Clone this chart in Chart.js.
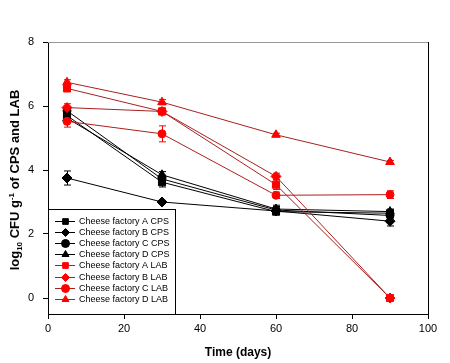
<!DOCTYPE html>
<html>
<head>
<meta charset="utf-8">
<script src="https://cdn.jsdelivr.net/npm/chart.js@4"></script>
<style>
  html, body { margin: 0; padding: 0; background: #fff; }
  #wrap { width: 450px; height: 363px; }
</style>
</head>
<body>
<div id="wrap"><canvas id="cfu-chart" width="450" height="363"></canvas></div>
<script>
// sampling days
const days = [5, 30, 60, 90];

// log10 CFU/g, CPS counts
const cpsA = [5.70, 3.62, 2.70, 2.65];
const cpsB = [3.75, 3.00, 2.72, 2.40];
const cpsC = [5.85, 3.72, 2.75, 2.58];
const cpsD = [5.62, 3.85, 2.78, 2.70];

// log10 CFU/g, LAB counts
const labA = [6.55, 5.83, 3.54, 0];
const labB = [5.95, 5.83, 3.80, 0];
const labC = [5.52, 5.13, 3.21, 3.23];
const labD = [6.74, 6.12, 5.10, 4.25];

// standard deviations
const cpsAErr = [0.10, 0.15, 0.08, 0.08];
const cpsBErr = [0.22, 0.05, 0.05, 0.15];
const cpsCErr = [0.10, 0.12, 0.15, 0.08];
const cpsDErr = [0.10, 0.10, 0.08, 0.08];
const labAErr = [0.10, 0.10, 0.15, 0];
const labBErr = [0.12, 0.10, 0.10, 0];
const labCErr = [0.18, 0.25, 0.10, 0.12];
const labDErr = [0.08, 0.08, 0.05, 0.05];

const xTicks = [0, 20, 40, 60, 80, 100];
const yTicks = [0, 2, 4, 6, 8];

const RED = '#ff0000';
const RED_LINE = '#a82020';
const FONT = "'Liberation Sans', Arial, sans-serif";

function series(label, values, errs, shape, line, fill, order) {
  return {
    label: label,
    data: days.map((d, i) => ({ x: d, y: values[i] })),
    errs: errs,
    borderColor: line,
    borderWidth: 1,
    backgroundColor: fill,
    pointStyle: shape,
    pointRadius: shape === 'circle' ? 4 : 5,
    pointBorderWidth: 1,
    pointBorderColor: fill,
    pointBackgroundColor: fill,
    order: order,
    tension: 0
  };
}

const datasets = [
  series('Cheese factory A CPS', cpsA, cpsAErr, 'rect', '#000', '#000', 1),
  series('Cheese factory B CPS', cpsB, cpsBErr, 'rectRot', '#000', '#000', 1),
  series('Cheese factory C CPS', cpsC, cpsCErr, 'circle', '#000', '#000', 1),
  series('Cheese factory D CPS', cpsD, cpsDErr, 'triangle', '#000', '#000', 1),
  series('Cheese factory A LAB', labA, labAErr, 'rect', RED_LINE, RED, 0),
  series('Cheese factory B LAB', labB, labBErr, 'rectRot', RED_LINE, RED, 0),
  series('Cheese factory C LAB', labC, labCErr, 'circle', RED_LINE, RED, 0),
  series('Cheese factory D LAB', labD, labDErr, 'triangle', RED_LINE, RED, 0)
];

// vertical error bars with caps, under the markers
const errorBars = {
  id: 'errorBars',
  beforeDatasetsDraw(chart) {
    const ctx = chart.ctx;
    const x = chart.scales.x, y = chart.scales.y;
    ctx.save();
    ctx.lineWidth = 1;
    chart.data.datasets.forEach(ds => {
      ctx.strokeStyle = ds.pointBackgroundColor;
      ds.data.forEach((p, i) => {
        const e = ds.errs[i];
        if (!e) return;
        const px = Math.round(x.getPixelForValue(p.x)) + 0.5;
        const top = y.getPixelForValue(p.y + e);
        const bot = y.getPixelForValue(p.y - e);
        ctx.beginPath();
        ctx.moveTo(px, top); ctx.lineTo(px, bot);
        ctx.moveTo(px - 3.5, top); ctx.lineTo(px + 3.5, top);
        ctx.moveTo(px - 3.5, bot); ctx.lineTo(px + 3.5, bot);
        ctx.stroke();
      });
    });
    ctx.restore();
  }
};

// closes the plot box, draws legend + y title
const decor = {
  id: 'decor',
  afterDraw(chart) {
    const ctx = chart.ctx;
    const a = chart.chartArea;
    const left = Math.round(a.left), right = Math.round(a.right);
    const top = Math.round(a.top), bottom = Math.round(a.bottom);
    ctx.save();
    ctx.lineWidth = 1;
    ctx.fillStyle = '#999';
    ctx.fillRect(left, top, right - left + 1, 1);
    ctx.fillStyle = '#000';
    ctx.fillRect(right, top, 1, bottom - top);

    // legend box in lower-left corner
    const bx = left, bw = 127, bh = 105, by = bottom - bh;
    ctx.fillStyle = '#fff';
    ctx.fillRect(bx, by, bw, bh);
    ctx.strokeStyle = '#000';
    ctx.strokeRect(bx + 0.5, by + 0.5, bw, bh);
    ctx.font = '9px ' + FONT;
    ctx.textBaseline = 'middle';
    datasets.forEach((ds, i) => {
      const ly = Math.round(by + 12 + i * 11.1) + 0.5;
      ctx.strokeStyle = ds.borderColor;
      ctx.beginPath();
      ctx.moveTo(bx + 7, ly); ctx.lineTo(bx + 27, ly);
      ctx.stroke();
      ctx.fillStyle = ds.pointBackgroundColor;
      ctx.strokeStyle = ds.pointBackgroundColor;
      Chart.helpers.drawPoint(ctx, { pointStyle: ds.pointStyle, radius: 4, rotation: 0, borderWidth: 1 }, bx + 17.5, ly);
      ctx.fillStyle = '#000';
      ctx.fillText(ds.label, bx + 31, ly);
    });

    // y axis title with sub/superscripts
    const runs = [
      ['log', 13, 0], ['10', 8, 3], [' CFU g', 13, 0], ['-1', 8, -5], [' of CPS and LAB', 13, 0]
    ];
    ctx.translate(15, (a.top + chart.scales.y.getPixelForValue(0)) / 2 + 10);
    ctx.rotate(-Math.PI / 2);
    ctx.fillStyle = '#000';
    ctx.textBaseline = 'alphabetic';
    let total = 0;
    runs.forEach(r => { ctx.font = 'bold ' + r[1] + 'px ' + FONT; total += ctx.measureText(r[0]).width; });
    let cx = -total / 2;
    runs.forEach(r => {
      ctx.font = 'bold ' + r[1] + 'px ' + FONT;
      ctx.fillText(r[0], cx, 4 + r[2]);
      cx += ctx.measureText(r[0]).width;
    });
    ctx.restore();
  }
};

new Chart(document.getElementById('cfu-chart'), {
  type: 'line',
  data: { datasets: datasets },
  options: {
    responsive: false,
    animation: false,
    layout: { padding: { top: 42, right: 22, left: 0, bottom: 0 } },
    plugins: {
      legend: { display: false },
      tooltip: { enabled: false }
    },
    scales: {
      x: {
        type: 'linear',
        min: 0,
        max: 100,
        afterBuildTicks: s => { s.ticks = xTicks.map(v => ({ value: v })); },
        afterFit: s => { s.height = 49; },
        grid: { drawOnChartArea: false, color: '#000', tickLength: 5 },
        border: { color: '#000' },
        ticks: { color: '#000', font: { family: FONT, size: 11 }, padding: 3 },
        title: {
          display: true,
          text: 'Time (days)',
          color: '#000',
          font: { family: FONT, size: 12, weight: 'bold' },
          padding: { top: 0, bottom: 3 }
        }
      },
      y: {
        min: -0.5,
        max: 8,
        afterBuildTicks: s => { s.ticks = yTicks.map(v => ({ value: v })); },
        afterFit: s => { s.width = 48; },
        grid: { drawOnChartArea: false, color: '#000', tickLength: 5 },
        border: { color: '#000' },
        ticks: { color: '#000', font: { family: FONT, size: 11 }, padding: 9 }
      }
    }
  },
  plugins: [errorBars, decor]
});
</script>
</body>
</html>
